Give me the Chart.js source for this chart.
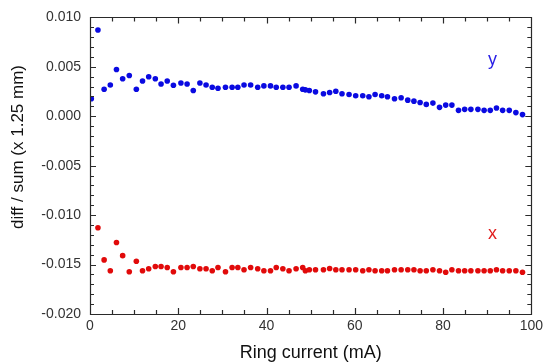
<!DOCTYPE html>
<html>
<head>
<meta charset="utf-8">
<script src="https://cdn.jsdelivr.net/npm/chart.js@4"></script>
<style>
  html, body { margin: 0; padding: 0; background: #fff; }
  #wrap { width: 547px; height: 364px; }
</style>
</head>
<body>
<div id="wrap"><canvas id="chart" width="547" height="364"></canvas></div>
<script>
// Ring current (mA), shared by both series
const currents = [
  0.3, 1.8, 3.2, 4.6, 6.0, 7.4, 8.9, 10.5, 11.9, 13.3,
  14.8, 16.1, 17.5, 18.9, 20.6, 22.0, 23.4, 24.9, 26.3, 27.7,
  29.0, 30.7, 32.2, 33.5, 34.9, 36.4, 38.0, 39.4, 40.9, 42.2,
  43.7, 45.1, 46.7, 48.2, 48.8, 49.7, 51.1, 52.9, 54.3, 55.7,
  57.1, 58.7, 60.2, 61.8, 63.2, 64.6, 66.1, 67.4, 69.0, 70.5,
  72.0, 73.4, 74.8, 76.2, 77.7, 79.2, 80.6, 82.0, 83.5, 84.9,
  86.3, 87.9, 89.3, 90.7, 92.1, 93.5, 95.0, 96.5, 98.0
];

// vertical (y) diff/sum
const ySeries = [
  0.00177, 0.00873, 0.00273, 0.00317, 0.00473, 0.0038, 0.00413, 0.00273, 0.00357, 0.0040,
  0.0038, 0.00327, 0.00357, 0.00313, 0.00337, 0.00327, 0.0026, 0.00337, 0.00317, 0.00293,
  0.00283, 0.00293, 0.00293, 0.00293, 0.00317, 0.00317, 0.00293, 0.00307, 0.00307, 0.00293,
  0.00293, 0.00293, 0.00307, 0.00273, 0.00267, 0.0026, 0.00247, 0.00227, 0.0024, 0.00253,
  0.00227, 0.0022, 0.00207, 0.00207, 0.00197, 0.0022, 0.00207, 0.00197, 0.00177, 0.00187,
  0.00163, 0.00153, 0.0014, 0.0012, 0.00133, 0.0009, 0.00113, 0.00113, 0.0006, 0.0007,
  0.0007, 0.0007, 0.0006, 0.0006, 0.00083, 0.0006, 0.0006, 0.00037, 0.00017
];

// horizontal (x) diff/sum, no reading at the first current
const xSeries = [
  null, -0.01127, -0.01453, -0.01563, -0.01277, -0.0141, -0.01573, -0.01467, -0.01563, -0.01543,
  -0.0152, -0.0152, -0.0153, -0.01573, -0.0153, -0.0153, -0.0152, -0.01543, -0.01543, -0.01563,
  -0.0153, -0.01573, -0.0153, -0.0153, -0.01553, -0.0153, -0.01543, -0.01563, -0.01563, -0.0153,
  -0.01543, -0.01563, -0.01543, -0.0153, -0.01563, -0.01553, -0.01553, -0.01553, -0.0154, -0.01553,
  -0.01553, -0.01553, -0.01553, -0.01563, -0.01553, -0.01563, -0.01563, -0.01563, -0.01553, -0.01553,
  -0.01553, -0.01553, -0.01563, -0.01563, -0.01553, -0.01563, -0.01577, -0.01553, -0.01563, -0.01563,
  -0.01563, -0.01563, -0.01563, -0.01563, -0.01553, -0.01563, -0.01563, -0.01563, -0.01577
];

const xTicks = [0, 20, 40, 60, 80, 100];
const yTicks = [-0.020, -0.015, -0.010, -0.005, 0.000, 0.005, 0.010];

// series labels placed in data units
const seriesLabels = [
  { text: 'y', x: 91.2, y: 0.0057, color: 'rgb(40,30,230)' },
  { text: 'x', x: 91.2, y: -0.0119, color: 'rgb(225,30,30)' }
];

const toPoints = (vals) => currents
  .map((c, i) => ({ x: c, y: vals[i] }))
  .filter(p => p.y !== null);

const FONT = '"Liberation Sans", Arial, sans-serif';

// frame with inward major/minor ticks on all four sides, labels and y title
const framePlugin = {
  id: 'frame',
  afterDraw(chart) {
    const ctx = chart.ctx;
    const xs = chart.scales.x, ys = chart.scales.y;
    const L = xs.left, R = xs.right, T = ys.top, B = ys.bottom;
    ctx.save();
    ctx.strokeStyle = '#2a2a2a';
    ctx.lineWidth = 1.2;
    ctx.beginPath();
    ctx.rect(Math.round(L) + 0.5, Math.round(T) + 0.5, Math.round(R - L), Math.round(B - T));
    for (let v = 0; v <= 100; v += 5) {
      const px = Math.round(xs.getPixelForValue(v)) + 0.5;
      const len = v % 20 === 0 ? 6 : 4;
      ctx.moveTo(px, B); ctx.lineTo(px, B - len);
      ctx.moveTo(px, T); ctx.lineTo(px, T + len);
    }
    for (let k = -20; k <= 10; k++) {
      const py = Math.round(ys.getPixelForValue(k / 1000)) + 0.5;
      const len = k % 5 === 0 ? 6 : 4;
      ctx.moveTo(L, py); ctx.lineTo(L + len, py);
      ctx.moveTo(R, py); ctx.lineTo(R - len, py);
    }
    ctx.stroke();

    ctx.font = '18px ' + FONT;
    ctx.textAlign = 'center';
    ctx.textBaseline = 'middle';
    seriesLabels.forEach(l => {
      ctx.fillStyle = l.color;
      ctx.fillText(l.text, xs.getPixelForValue(l.x), ys.getPixelForValue(l.y));
    });

    ctx.translate(18, 147);
    ctx.rotate(-Math.PI / 2);
    ctx.fillStyle = '#111';
    ctx.font = '17px ' + FONT;
    ctx.fillText('diff / sum (x 1.25 mm)', 0, 0);
    ctx.restore();
  }
};

new Chart(document.getElementById('chart'), {
  type: 'scatter',
  data: {
    datasets: [
      {
        label: 'y',
        data: toPoints(ySeries),
        backgroundColor: 'rgb(10,10,225)',
        borderWidth: 0,
        pointRadius: 2.8
      },
      {
        label: 'x',
        data: toPoints(xSeries),
        backgroundColor: 'rgb(225,10,10)',
        borderWidth: 0,
        pointRadius: 2.8
      }
    ]
  },
  options: {
    responsive: false,
    animation: false,
    events: [],
    layout: { padding: { top: 14, right: 11, left: 0, bottom: 0 } },
    plugins: {
      legend: { display: false },
      tooltip: { enabled: false }
    },
    scales: {
      x: {
        type: 'linear',
        min: 0,
        max: 100,
        afterBuildTicks: (s) => { s.ticks = xTicks.map(v => ({ value: v })); },
        afterFit: (s) => { s.height = 50; },
        grid: { display: false, drawTicks: false },
        border: { display: false },
        ticks: {
          padding: 4,
          color: '#333',
          font: { family: FONT, size: 14 },
          maxRotation: 0
        },
        title: {
          display: true,
          text: 'Ring current (mA)',
          color: '#111',
          font: { family: FONT, size: 18 },
          padding: { top: 1, bottom: 0 }
        }
      },
      y: {
        type: 'linear',
        min: -0.02,
        max: 0.01,
        afterBuildTicks: (s) => { s.ticks = yTicks.map(v => ({ value: v })); },
        afterFit: (s) => { s.width = 90; },
        grid: { display: false, drawTicks: false },
        border: { display: false },
        ticks: {
          padding: 9,
          color: '#333',
          font: { family: FONT, size: 14 },
          callback: (v) => (Math.abs(v) < 1e-9 ? 0 : v).toFixed(3)
        }
      }
    }
  },
  plugins: [framePlugin]
});
</script>
</body>
</html>
